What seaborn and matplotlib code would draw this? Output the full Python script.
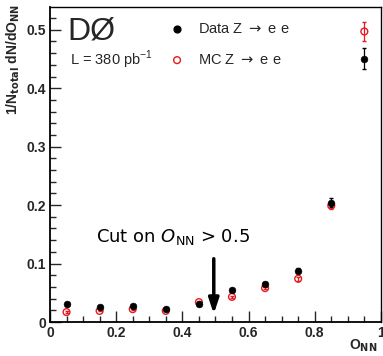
import matplotlib
matplotlib.use("Agg")
import matplotlib.pyplot as plt
import seaborn as sns
import pandas as pd
import numpy as np

bins = [0.05, 0.15, 0.25, 0.35, 0.45, 0.55, 0.65, 0.75, 0.85, 0.95]
data_vals = [0.030, 0.025, 0.027, 0.022, 0.031, 0.054, 0.065, 0.088, 0.204, 0.450]
data_err = [0.002, 0.002, 0.002, 0.002, 0.002, 0.003, 0.003, 0.004, 0.008, 0.018]
mc_vals = [0.017, 0.019, 0.022, 0.019, 0.034, 0.043, 0.058, 0.074, 0.199, 0.497]
mc_err = [0.001, 0.001, 0.001, 0.001, 0.002, 0.002, 0.002, 0.003, 0.006, 0.016]

sns.set_style("white")
plt.rcParams['font.family'] = ['Liberation Sans', 'DejaVu Sans']

fig = plt.figure(figsize=(3.83, 3.56), dpi=100)
ax = fig.add_axes([0.1305, 0.0955, 0.864, 0.885])

df_data = pd.DataFrame({"x": bins, "y": data_vals})
df_mc = pd.DataFrame({"x": bins, "y": mc_vals})

RED = '#e8191e'
ax.errorbar(bins, mc_vals, yerr=mc_err, fmt='none', ecolor=RED, elinewidth=0.9, capsize=1.2, zorder=2)
ax.errorbar(bins, data_vals, yerr=data_err, fmt='none', ecolor='black', elinewidth=0.9, capsize=1.2, zorder=2)
sns.scatterplot(data=df_data, x="x", y="y", ax=ax, color='black', s=24, edgecolor='black', linewidth=0.4, zorder=4)
sns.scatterplot(data=df_mc, x="x", y="y", ax=ax, facecolor='none', edgecolor=RED, s=24, linewidth=1.0, marker='o', zorder=3)

ax.set_xlim(0, 1)
ax.set_ylim(0, 0.539)
ax.set_xlabel("")
ax.set_ylabel("")

for s in ax.spines.values():
    s.set_color('black')
    s.set_linewidth(1.0)
ax.spines['left'].set_linewidth(1.3)
ax.spines['bottom'].set_linewidth(1.3)

ax.set_xticks([0, 0.2, 0.4, 0.6, 0.8, 1.0])
ax.set_xticklabels(["0", "0.2", "0.4", "0.6", "0.8", "1"])
ax.set_xticks(np.arange(0, 1.0001, 0.05), minor=True)
ax.set_yticks([0, 0.1, 0.2, 0.3, 0.4, 0.5])
ax.set_yticklabels(["0", "0.1", "0.2", "0.3", "0.4", "0.5"])
ax.set_yticks(np.arange(0, 0.539, 0.02), minor=True)
ax.tick_params(axis='both', which='major', direction='in', length=8, width=1, labelsize=10, pad=3,
               bottom=True, left=True, top=False, right=False)
ax.tick_params(axis='both', which='minor', direction='in', length=4, width=1,
               bottom=True, left=True, top=False, right=False)
for lab in ax.get_xticklabels() + ax.get_yticklabels():
    lab.set_fontweight('bold')

fig.text(0.012, 0.99, r"1/N$_{\mathbf{total}}$ dN/dO$_{\mathbf{NN}}$", rotation=90, ha='left', va='top',
         fontsize=10, fontweight='bold')
fig.text(0.985, 0.005, r"O$_{\mathbf{NN}}$", ha='right', va='bottom', fontsize=10, fontweight='bold')

ax.text(0.052, 0.522, "DØ", fontsize=23, ha='left', va='top')
ax.text(0.062, 0.448, r"L = 380 pb$^{\mathregular{-1}}$", fontsize=10.5, ha='left', va='center')

# legend
ax.scatter([0.384], [0.501], s=24, color='black', zorder=4)
ax.text(0.447, 0.501, r"Data Z $\rightarrow$ e e", fontsize=10.5, ha='left', va='center')
ax.scatter([0.384], [0.448], s=24, facecolor='none', edgecolor=RED, linewidth=1.0, zorder=4)
ax.text(0.447, 0.448, r"MC Z $\rightarrow$ e e", fontsize=10.5, ha='left', va='center')

ax.text(0.14, 0.146, r"Cut on $O_{\mathregular{NN}}$ > 0.5", fontsize=13, ha='left', va='center',
        family=['DejaVu Sans'], color='black')
ax.annotate("", xy=(0.495, 0.009), xytext=(0.495, 0.113),
            arrowprops=dict(arrowstyle='-|>,head_length=0.9,head_width=0.3', color='black', lw=2.5))

fig.savefig("out.png", dpi=100)
